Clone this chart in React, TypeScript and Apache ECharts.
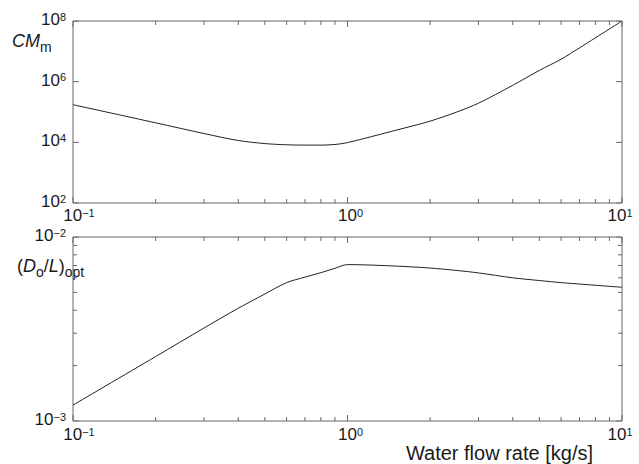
import React, { useEffect, useRef } from 'react';
import * as echarts from 'echarts';

// Water flow rate [kg/s]
const flowRate = [0.1, 0.2, 0.3, 0.4, 0.5, 0.6, 0.7, 0.8, 0.9, 1.0, 1.5, 2, 2.5, 3, 4, 5, 6, 7, 10];
// CM_m (top panel)
const cmM = [1.74e5, 4.4e4, 1.95e4, 1.15e4, 9.1e3, 8.3e3, 8.1e3, 8.1e3, 8.5e3, 9.8e3, 2.5e4, 5.0e4, 1.0e5, 1.95e5, 7.6e5, 2.35e6, 5.5e6, 1.3e7, 1.0e8];
// (Do/L)opt (bottom panel)
const doLOpt = [1.22e-3, 2.24e-3, 3.2e-3, 4.1e-3, 4.9e-3, 5.65e-3, 6.05e-3, 6.4e-3, 6.76e-3, 7.08e-3, 6.95e-3, 6.78e-3, 6.58e-3, 6.38e-3, 6.0e-3, 5.8e-3, 5.65e-3, 5.55e-3, 5.33e-3];

const xTickExps = [-1, 0, 1];
const xMinorExps = [-1, 0];
const topYTickExps = [2, 4, 6, 8];
const bottomYTickExps = [-3, -2];
const bottomYMinorExps = [-3];
const minorMultipliers = [2, 3, 4, 5, 6, 7, 8, 9];

const X_MIN = 0.1, X_MAX = 10;
const TOP_Y_MIN = 1e2, TOP_Y_MAX = 1e8;
const BOT_Y_MIN = 1e-3, BOT_Y_MAX = 1e-2;

const GRID_LEFT = 73, GRID_WIDTH = 549;
const TOP_GRID = { top: 21, height: 182 };
const BOT_GRID = { top: 237, height: 184 };

const TEXT = '#1a1a1a';
const FRAME = '#666666';
const FONT = 'Liberation Sans';

const expOf = (v: number) => Math.round(Math.log10(v));
const supText = (e: number) => (e < 0 ? '\u2212' + Math.abs(e) : String(e));

const richSup = {
  b: { fontSize: 17, lineHeight: 20, verticalAlign: 'top', color: TEXT, fontFamily: FONT },
  s: { fontSize: 11, lineHeight: 14, verticalAlign: 'top', color: TEXT, fontFamily: FONT },
  padL12: { width: 12 },
  padL6: { width: 6 },
  padR: { width: 4 },
};

const xLabelFormatter = (v: number) => {
  const e = expOf(v);
  const s = supText(e);
  if (e === 1) return `{b|10}{s|${s}}{padR|}`;
  return (s.length > 1 ? '{padL12|}' : '{padL6|}') + `{b|10}{s|${s}}`;
};

const yLabelFormatterTop = (v: number) => {
  const e = expOf(v);
  if (e % 2 !== 0) return '';
  return `{b|10}{s|${supText(e)}}`;
};
const yLabelFormatterBottom = (v: number) => `{b|10}{s|${supText(expOf(v))}}`;

// Tick marks drawn as tiny line series on the log axes (inward, on all four sides)
function tickSeries(gridIndex: number, yMin: number, yMax: number, heightPx: number, yMajors: number[], yMinorExps: number[]) {
  const out: any[] = [];
  const yDecades = Math.log10(yMax / yMin);
  const xDecades = Math.log10(X_MAX / X_MIN);
  const yFactor = (len: number) => Math.pow(10, (len * yDecades) / heightPx);
  const xFactor = (len: number) => Math.pow(10, (len * xDecades) / GRID_WIDTH);
  const mk = (a: number[], b: number[]) => ({
    type: 'line',
    xAxisIndex: gridIndex,
    yAxisIndex: gridIndex,
    data: [a, b],
    symbol: 'none',
    showSymbol: false,
    silent: true,
    z: 3,
    lineStyle: { color: FRAME, width: 1 },
  });
  const xTick = (v: number, len: number) => {
    out.push(mk([v, yMin], [v, yMin * yFactor(len)]));
    out.push(mk([v, yMax], [v, yMax / yFactor(len)]));
  };
  const yTick = (v: number, len: number) => {
    out.push(mk([X_MIN, v], [X_MIN * xFactor(len), v]));
    out.push(mk([X_MAX, v], [X_MAX / xFactor(len), v]));
  };
  xTickExps.forEach((e) => xTick(Math.pow(10, e), 6));
  xMinorExps.forEach((e) => minorMultipliers.forEach((m) => xTick(m * Math.pow(10, e), 4)));
  yMajors.forEach((e) => yTick(Math.pow(10, e), 6));
  yMinorExps.forEach((e) => minorMultipliers.forEach((m) => yTick(m * Math.pow(10, e), 4)));
  return out;
}

export default function App() {
  const ref = useRef<HTMLDivElement>(null);
  useEffect(() => {
    if (!ref.current) return;
    const chart = echarts.init(ref.current, null, { renderer: 'svg' });
    const axisCommon = {
      type: 'log',
      axisLine: { show: false },
      axisTick: { show: false },
      splitLine: { show: false },
    };
    chart.setOption({
      animation: false,
      backgroundColor: '#fff',
      textStyle: { fontFamily: FONT },
      grid: [
        { left: GRID_LEFT, top: TOP_GRID.top, width: GRID_WIDTH, height: TOP_GRID.height, outerBoundsMode: 'none', show: true, borderColor: FRAME, borderWidth: 1, backgroundColor: 'transparent' },
        { left: GRID_LEFT, top: BOT_GRID.top, width: GRID_WIDTH, height: BOT_GRID.height, outerBoundsMode: 'none', show: true, borderColor: FRAME, borderWidth: 1, backgroundColor: 'transparent' },
      ],
      xAxis: [
        { ...axisCommon, gridIndex: 0, min: X_MIN, max: X_MAX, axisLabel: { formatter: xLabelFormatter, rich: richSup, margin: 4, showMinLabel: true, showMaxLabel: true } },
        { ...axisCommon, gridIndex: 1, min: X_MIN, max: X_MAX, axisLabel: { formatter: xLabelFormatter, rich: richSup, margin: 5, showMinLabel: true, showMaxLabel: true } },
      ],
      yAxis: [
        { ...axisCommon, gridIndex: 0, min: TOP_Y_MIN, max: TOP_Y_MAX, axisLabel: { formatter: yLabelFormatterTop, rich: richSup, margin: 7, showMinLabel: true, showMaxLabel: true } },
        { ...axisCommon, gridIndex: 1, min: BOT_Y_MIN, max: BOT_Y_MAX, axisLabel: { formatter: yLabelFormatterBottom, rich: richSup, margin: 7, showMinLabel: true, showMaxLabel: true } },
      ],
      series: [
        {
          type: 'line', xAxisIndex: 0, yAxisIndex: 0, showSymbol: false, symbol: 'none', smooth: 0.3,
          lineStyle: { color: '#222', width: 1 },
          data: flowRate.map((x, i) => [x, cmM[i]]),
        },
        {
          type: 'line', xAxisIndex: 1, yAxisIndex: 1, showSymbol: false, symbol: 'none', smooth: 0.3,
          lineStyle: { color: '#222', width: 1 },
          data: flowRate.map((x, i) => [x, doLOpt[i]]),
        },
        ...tickSeries(0, TOP_Y_MIN, TOP_Y_MAX, TOP_GRID.height, topYTickExps, []),
        ...tickSeries(1, BOT_Y_MIN, BOT_Y_MAX, BOT_GRID.height, bottomYTickExps, bottomYMinorExps),
      ],
      graphic: [
        {
          type: 'text', left: 12, top: 32,
          style: {
            text: '{i|CM}{sub|m}',
            rich: {
              i: { fontSize: 18, fontStyle: 'italic', lineHeight: 18, verticalAlign: 'top', fill: TEXT, fontFamily: FONT },
              sub: { fontSize: 14, lineHeight: 22, verticalAlign: 'bottom', fill: TEXT, fontFamily: FONT },
            },
          },
        },
        {
          type: 'text', left: 17, top: 257,
          style: {
            text: '{n|(}{i|D}{sub|o}{n|/}{i|L}{n|)}{sub|opt}',
            rich: {
              n: { fontSize: 18, lineHeight: 18, verticalAlign: 'top', fill: TEXT, fontFamily: FONT },
              i: { fontSize: 18, fontStyle: 'italic', lineHeight: 18, verticalAlign: 'top', fill: TEXT, fontFamily: FONT },
              sub: { fontSize: 14, lineHeight: 22, verticalAlign: 'bottom', fill: TEXT, fontFamily: FONT },
            },
          },
        },
        {
          type: 'text', right: 46, top: 443,
          style: { text: 'Water flow rate [kg/s]', fontSize: 20, fill: TEXT, fontFamily: FONT },
        },
      ],
    });
    return () => chart.dispose();
  }, []);
  return <div ref={ref} style={{ position: 'absolute', left: 0, top: 0, width: 639, height: 464 }} />;
}
